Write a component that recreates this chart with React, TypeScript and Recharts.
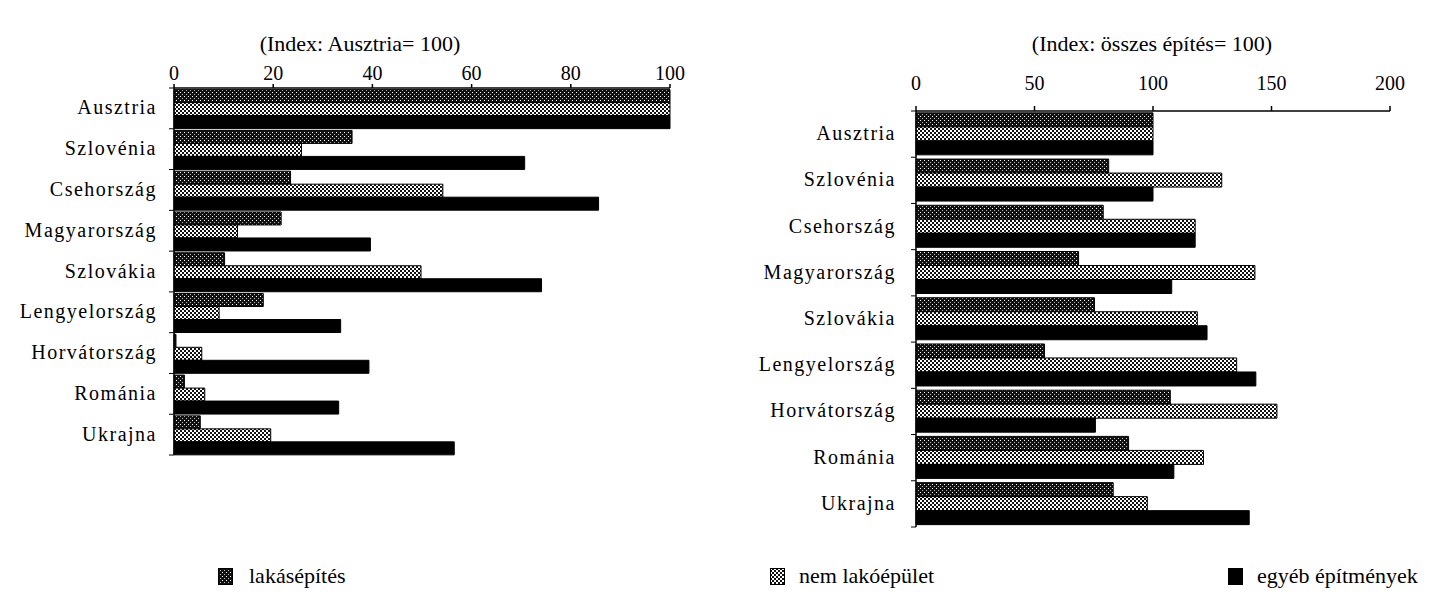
import { Bar, BarChart, XAxis, YAxis } from "recharts";

const countries = [
  "Ausztria",
  "Szlovénia",
  "Csehország",
  "Magyarország",
  "Szlovákia",
  "Lengyelország",
  "Horvátország",
  "Románia",
  "Ukrajna",
];

// left panel: Index Ausztria = 100
const leftLakas = [100, 35.9, 23.5, 21.6, 10.2, 18, 0.4, 2.1, 5.3];
const leftNemLako = [100, 25.7, 54.2, 12.8, 49.8, 9.1, 5.6, 6.2, 19.5];
const leftEgyeb = [100, 70.7, 85.6, 39.6, 74.1, 33.6, 39.3, 33.2, 56.5];
const leftTicks = [0, 20, 40, 60, 80, 100];

// right panel: Index összes építés = 100
const rightLakas = [100, 81.3, 79, 68.6, 75.3, 54.2, 107.3, 89.7, 83.2];
const rightNemLako = [100, 129, 117.8, 143, 118.7, 135.3, 152.3, 121.3, 97.6];
const rightEgyeb = [100, 100, 117.8, 107.9, 122.8, 143.4, 75.7, 108.8, 140.6];
const rightTicks = [0, 50, 100, 150, 200];

const seriesNames = ["lakásépítés", "nem lakóépület", "egyéb építmények"];

const leftData = countries.map((c, i) => ({
  name: c,
  lakas: leftLakas[i],
  nem: leftNemLako[i],
  egyeb: leftEgyeb[i],
}));

const rightData = countries.map((c, i) => ({
  name: c,
  lakas: rightLakas[i],
  nem: rightNemLako[i],
  egyeb: rightEgyeb[i],
}));

const FONT = '"Liberation Serif", "Times New Roman", serif';

function Patterns({ prefix }: { prefix: string }) {
  return (
    <defs>
      <pattern id={`${prefix}-dots`} width="4" height="4" patternUnits="userSpaceOnUse">
        <rect width="4" height="4" fill="#111" />
        <rect x="0" y="0" width="1" height="1" fill="#fff" />
        <rect x="2" y="2" width="1" height="1" fill="#bbb" />
      </pattern>
      <pattern id={`${prefix}-zig`} width="4" height="4" patternUnits="userSpaceOnUse">
        <rect width="4" height="4" fill="#111" />
        <rect x="0" y="0" width="2" height="2" fill="#fff" />
        <rect x="2" y="2" width="2" height="2" fill="#fff" />
      </pattern>
    </defs>
  );
}

// category label plus a short mark at the band boundary (like the scanned original)
function makeCategoryTick(band: number, last: string, dx: number) {
  return function CategoryTick(props: any) {
    const { x, y, payload } = props;
    const ax = x + dx;
    return (
      <g>
        <line x1={ax - 5} x2={ax} y1={y - band / 2} y2={y - band / 2} stroke="#000" />
        {payload.value === last && (
          <line x1={ax - 5} x2={ax} y1={y + band / 2} y2={y + band / 2} stroke="#000" />
        )}
        <text
          x={x}
          y={y}
          dy={6}
          textAnchor="end"
          fontFamily={FONT}
          fontSize={20}
          letterSpacing={1.5}
          fill="#000"
        >
          {payload.value}
        </text>
      </g>
    );
  };
}

const LeftTick = makeCategoryTick(367 / 9, "Ukrajna", 17);
const RightTick = makeCategoryTick(416 / 9, "Ukrajna", 20);

function Swatch({ kind }: { kind: "dots" | "zig" | "solid" }) {
  return (
    <svg width={15} height={17} style={{ display: "block" }}>
      <Patterns prefix={`lg-${kind}`} />
      <rect
        x={0.5}
        y={0.5}
        width={14}
        height={16}
        stroke="#000"
        fill={kind === "solid" ? "#000" : `url(#lg-${kind}-${kind})`}
      />
    </svg>
  );
}

const legendItem = {
  position: "absolute" as const,
  top: 563,
  display: "flex",
  alignItems: "center",
  fontSize: 22,
  whiteSpace: "nowrap" as const,
};

export default function App() {
  const axisTick = { fontFamily: FONT, fontSize: 20, fill: "#000" };
  return (
    <div
      style={{
        position: "absolute",
        left: 0,
        top: 0,
        width: 1434,
        height: 595,
        background: "#fff",
        fontFamily: FONT,
        color: "#000",
        overflow: "hidden",
      }}
    >
      <div style={{ position: "absolute", left: 160, width: 400, top: 31, textAlign: "center", fontSize: 22 }}>
        (Index: Ausztria= 100)
      </div>
      <div style={{ position: "absolute", left: 952, width: 400, top: 31, textAlign: "center", fontSize: 22 }}>
        (Index: összes építés= 100)
      </div>

      <div style={{ position: "absolute", left: 0, top: 0 }}>
        <BarChart
          width={720}
          height={470}
          data={leftData}
          layout="vertical"
          margin={{ top: 0, right: 50, bottom: 15, left: 0 }}
          barGap={0}
          barCategoryGap="4%"
        >
          <Patterns prefix="l" />
          <XAxis
            type="number"
            orientation="top"
            domain={[0, 100]}
            ticks={leftTicks}
            height={88}
            tick={axisTick}
            tickSize={4}
            tickMargin={4}
            stroke="#000"
            strokeWidth={1.5}
          />
          <YAxis
            type="category"
            dataKey="name"
            width={174}
            tick={<LeftTick />}
            tickLine={false}
            tickMargin={11}
            stroke="#000"
            strokeWidth={1.5}
          />
          <Bar dataKey="lakas" name={seriesNames[0]} fill="url(#l-dots)" stroke="#000" isAnimationActive={false} />
          <Bar dataKey="nem" name={seriesNames[1]} fill="url(#l-zig)" stroke="#000" isAnimationActive={false} />
          <Bar dataKey="egyeb" name={seriesNames[2]} fill="#000" stroke="#000" isAnimationActive={false} />
        </BarChart>
      </div>

      <div style={{ position: "absolute", left: 720, top: 0 }}>
        <BarChart
          width={714}
          height={545}
          data={rightData}
          layout="vertical"
          margin={{ top: 0, right: 44, bottom: 18, left: 0 }}
          barGap={0}
          barCategoryGap="4%"
        >
          <Patterns prefix="r" />
          <XAxis
            type="number"
            orientation="top"
            domain={[0, 200]}
            ticks={rightTicks}
            height={111}
            tick={axisTick}
            tickSize={5}
            tickMargin={16}
            stroke="#000"
            strokeWidth={1.5}
          />
          <YAxis
            type="category"
            dataKey="name"
            width={196}
            tick={<RightTick />}
            tickLine={false}
            tickMargin={14}
            stroke="#000"
            strokeWidth={1.5}
          />
          <Bar dataKey="lakas" name={seriesNames[0]} fill="url(#r-dots)" stroke="#000" isAnimationActive={false} />
          <Bar dataKey="nem" name={seriesNames[1]} fill="url(#r-zig)" stroke="#000" isAnimationActive={false} />
          <Bar dataKey="egyeb" name={seriesNames[2]} fill="#000" stroke="#000" isAnimationActive={false} />
        </BarChart>
      </div>

      <div style={{ ...legendItem, left: 218 }}>
        <Swatch kind="dots" />
        <span style={{ marginLeft: 16 }}>{seriesNames[0]}</span>
      </div>
      <div style={{ ...legendItem, left: 770 }}>
        <Swatch kind="zig" />
        <span style={{ marginLeft: 14 }}>{seriesNames[1]}</span>
      </div>
      <div style={{ ...legendItem, left: 1228 }}>
        <Swatch kind="solid" />
        <span style={{ marginLeft: 14 }}>{seriesNames[2]}</span>
      </div>
    </div>
  );
}
